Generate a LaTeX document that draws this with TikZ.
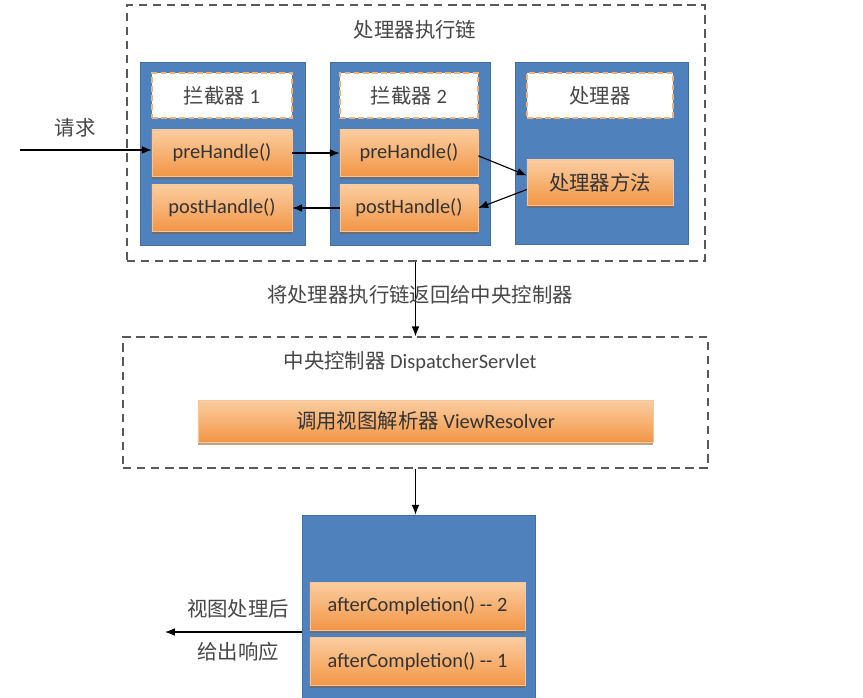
\documentclass[tikz,border=0pt]{standalone}
\usepackage{fontspec}
\setmainfont{Carlito}
\newfontfamily\cjk{Noto Sans CJK SC}
\usetikzlibrary{arrows.meta,positioning,calc,shadows}

\definecolor{chainblue}{RGB}{79,129,189}
\definecolor{boxorange}{RGB}{242,150,70}
\definecolor{boxorangetop}{RGB}{251,205,160}
\definecolor{labelgray}{RGB}{70,70,70}

\begin{document}
\begin{tikzpicture}[x=0.025cm,y=-0.025cm,>={Latex[length=7pt,width=5.5pt]}]
  \tikzstyle{frame}=[draw=black!65,line width=1pt,dash pattern=on 6pt off 4pt]
  \tikzstyle{column}=[fill=chainblue,draw=chainblue!85!black,line width=0.4pt]
  \tikzstyle{head}=[fill=white,draw=boxorange!75,line width=1pt,dash pattern=on 4pt off 2.5pt,minimum height=1.125cm,text=labelgray,font=\fontsize{14.5}{17}\selectfont]
  \tikzstyle{callbox}=[draw=boxorange!55,top color=boxorangetop,bottom color=boxorange,drop shadow={shadow xshift=0pt,shadow yshift=-2pt,opacity=0.55,fill=brown!70!black},minimum height=1.15cm,text=black!80,font=\fontsize{14.5}{17}\selectfont]
  \tikzstyle{lbl}=[text=labelgray,font=\fontsize{14.5}{17}\selectfont]
  \useasboundingbox[fill=white] (0,0) rectangle (863,698);

  % handler execution chain
  \node[frame,minimum width=14.45cm,minimum height=6.4cm] (chain) at (416,133) {};
  \node[lbl] (chaintitle) at (415,30) {\cjk 处理器执行链};
  \node[column,minimum width=4.125cm,minimum height=4.575cm] (col1) at (222.5,153.5) {};
  \node[column,minimum width=4cm,minimum height=4.575cm] (col2) at (410,153.5) {};
  \node[column,minimum width=4.325cm,minimum height=4.55cm] (col3) at (601.5,153) {};
  \node[head,minimum width=3.5cm] (icp1) at (222,95.5) {{\cjk 拦截器} 1};
  \node[head,minimum width=3.45cm] (icp2) at (409,95.5) {{\cjk 拦截器} 2};
  \node[head,minimum width=3.65cm] (hdl) at (600,95.5) {\cjk 处理器};
  \node[callbox,minimum width=3.5cm] (pre1) at (222,153) {preHandle()};
  \node[callbox,minimum width=3.5cm] (post1) at (222,208) {postHandle()};
  \node[callbox,minimum width=3.45cm] (pre2) at (409,153) {preHandle()};
  \node[callbox,minimum width=3.45cm] (post2) at (409,208) {postHandle()};
  \node[callbox,minimum width=3.65cm,minimum height=1.125cm] (method) at (600,182.5) {\cjk 处理器方法};

  \coordinate (req) at (20,150);
  \node[lbl] (reqlbl) at (75,128) {\cjk 请求};
  \draw[->,thick] (req) -- (req -| pre1.west);
  \draw[->,thick] (pre1.east) -- (pre2.west);
  \draw[->,thick] ([yshift=-2pt]pre2.east) -- ([yshift=5pt]method.west);
  \draw[->,thick] ([yshift=-5pt]method.west) -- (post2.east);
  \draw[->,thick] (post2.west) -- (post1.east);

  % dispatcher
  \node[frame,minimum width=14.625cm,minimum height=3.275cm] (disp) at (415.5,402.5) {};
  \node[lbl] (disptitle) at (410,362) {{\cjk 中央控制器} DispatcherServlet};
  \node[callbox,minimum width=11.375cm,minimum height=1.05cm] (resolver) at (425.5,421) {{\cjk 调用视图解析器} ViewResolver};
  \draw[->,thick] (chain.south -| disp.north) -- (disp.north);
  \node[lbl] (backlbl) at (420,295) {\cjk 将处理器执行链返回给中央控制器};

  % after completion
  \node[column,minimum width=5.825cm,minimum height=4.575cm] (done) at (418.5,606.5) {};
  \node[callbox,minimum width=5.375cm,minimum height=1.2cm] (after2) at (417.5,606) {afterCompletion() -{}- 2};
  \node[callbox,minimum width=5.375cm,minimum height=1.2cm] (after1) at (417.5,661.5) {afterCompletion() -{}- 1};
  \draw[->,thick] (disp.south) -- (disp.south |- done.north);

  \coordinate (resp) at (165,632);
  \draw[->,thick] (done.west |- resp) -- (resp);
  \node[lbl] (resplbl1) at (238,609) {\cjk 视图处理后};
  \node[lbl] (resplbl2) at (238,652) {\cjk 给出响应};
\end{tikzpicture}
\end{document}
